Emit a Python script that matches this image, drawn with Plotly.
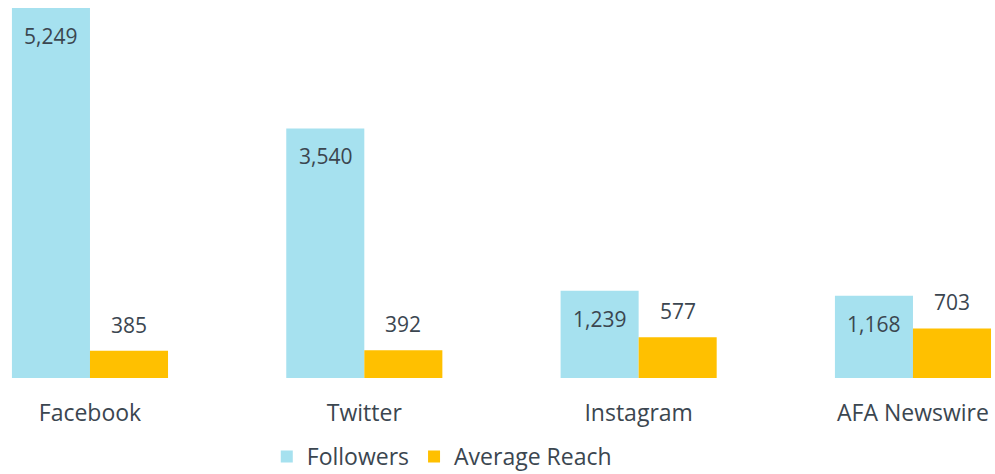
import plotly.graph_objects as go

categories = ["Facebook", "Twitter", "Instagram", "AFA Newswire"]
followers = [5249, 3540, 1239, 1168]
avg_reach = [385, 392, 577, 703]

BLUE = "#A6E1EF"
GOLD = "#FFC000"
TXT = "#3B4650"
FONT = "Open Sans"

fig = go.Figure()
fig.add_trace(go.Bar(name="Followers", x=categories, y=followers, marker_color=BLUE,
                     marker_line_width=0, hoverinfo="skip"))
fig.add_trace(go.Bar(name="Average Reach", x=categories, y=avg_reach, marker_color=GOLD,
                     marker_line_width=0, hoverinfo="skip"))

annotations = []
for c, f, r in zip(categories, followers, avg_reach):
    annotations.append(dict(x=c, y=f, xref="x", yref="y", text=f"{f:,}", showarrow=False,
                            xshift=-39, yanchor="top", yshift=-12,
                            font=dict(family=FONT, size=21, color=TXT)))
    annotations.append(dict(x=c, y=r, xref="x", yref="y", text=f"{r:,}", showarrow=False,
                            xshift=39, yanchor="bottom", yshift=10,
                            font=dict(family=FONT, size=21, color=TXT)))

fig.update_layout(
    barmode="group",
    bargap=0.431,
    bargroupgap=0,
    width=995, height=474,
    margin=dict(l=0, r=0, t=8, b=96, autoexpand=False),
    paper_bgcolor="white", plot_bgcolor="white",
    font=dict(family=FONT, size=23, color=TXT),
    annotations=annotations,
    showlegend=True,
    legend=dict(orientation="h", x=0.444, xanchor="center", y=-0.212, yanchor="middle",
                yref="paper",
                font=dict(family=FONT, size=23, color=TXT), itemwidth=30,
                traceorder="normal"),
    xaxis=dict(range=[-0.328, 3.299], showgrid=False, showline=False, automargin=False,
               ticks="outside", ticklen=14, tickcolor="rgba(0,0,0,0)",
               tickfont=dict(family=FONT, size=23, color=TXT)),
    yaxis=dict(range=[0, 5249], visible=False, showgrid=False, automargin=False),
)

fig.write_html("out.html", config={"displayModeBar": False},
               post_script="document.body.style.margin='0';document.body.style.overflow='hidden';")
